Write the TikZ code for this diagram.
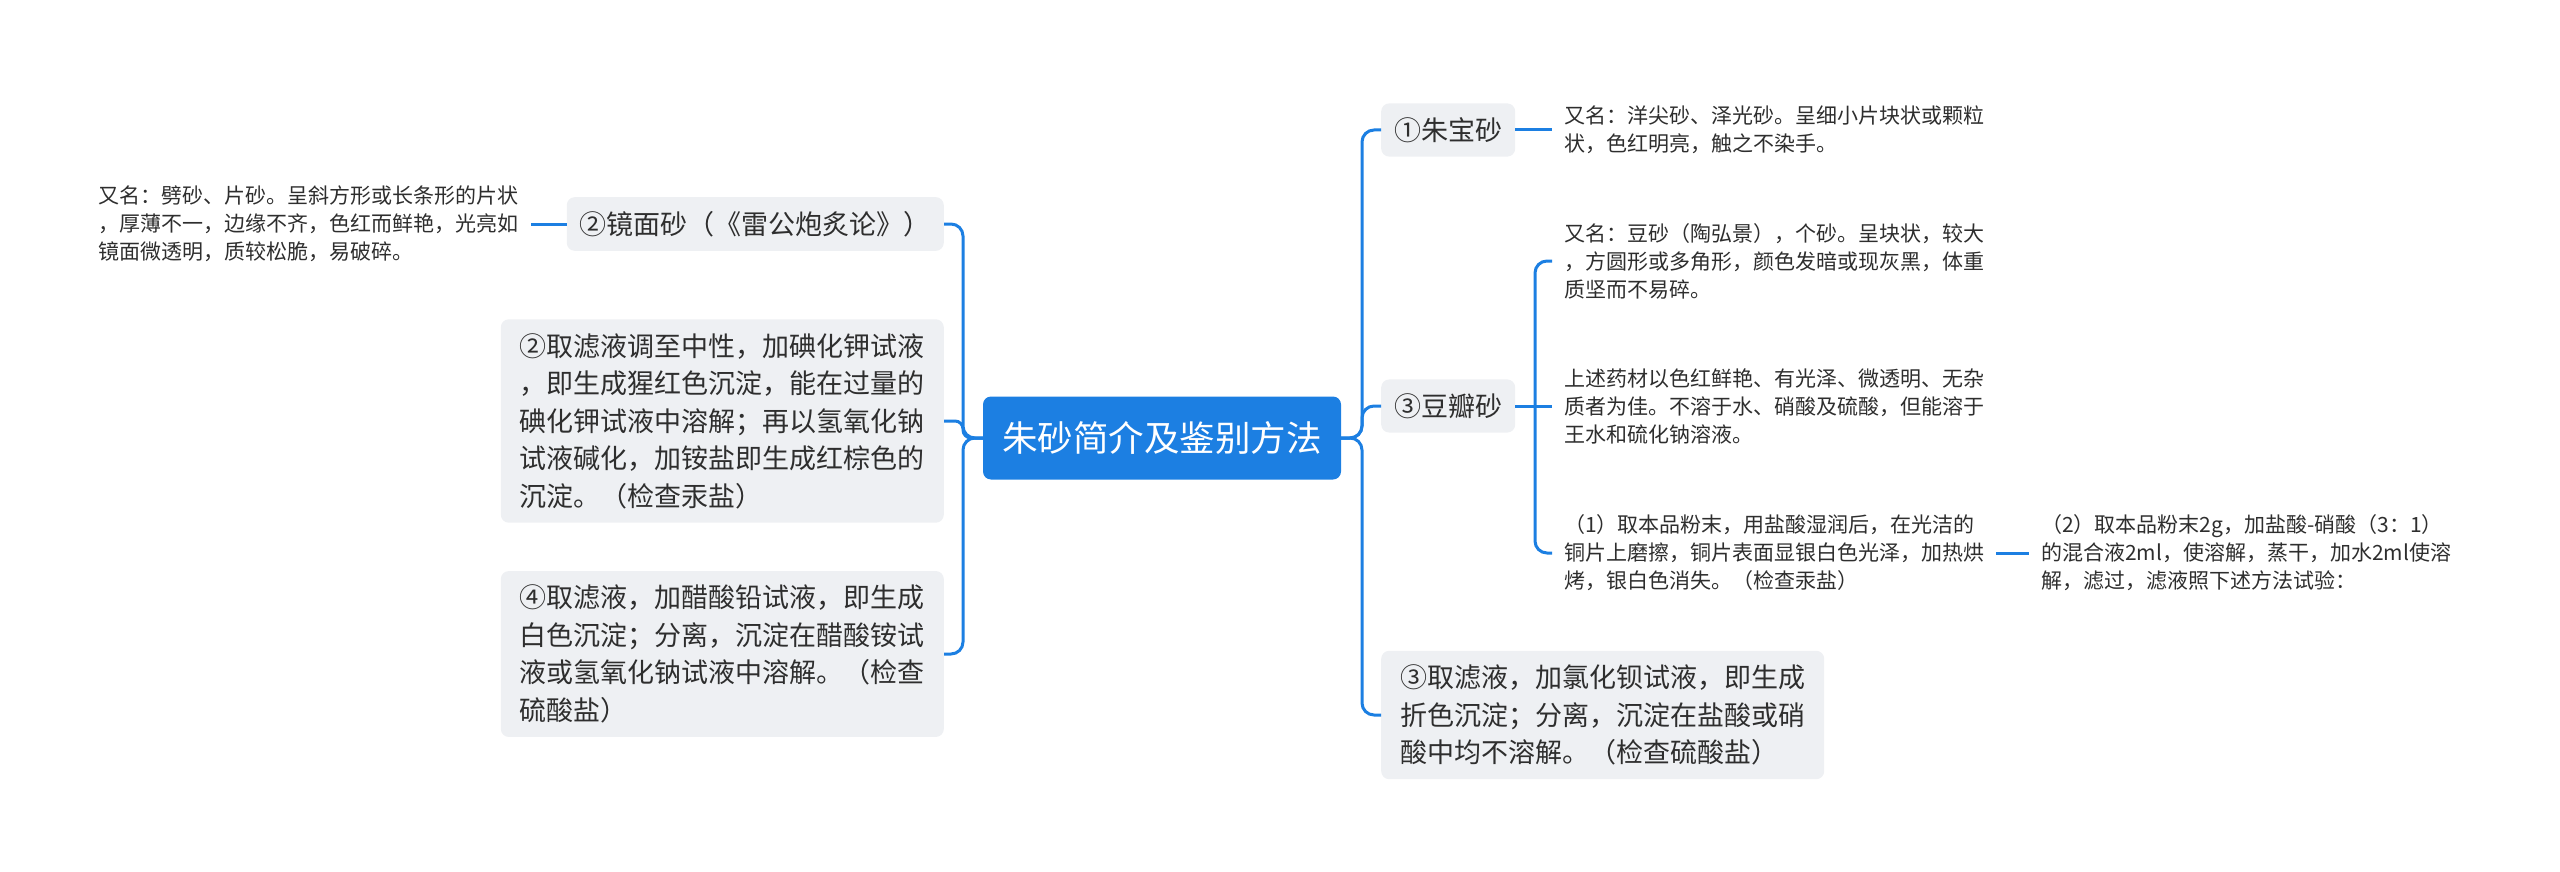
\documentclass[tikz,border=0pt]{standalone}
\usepackage{fontspec}
\setmainfont{Noto Sans CJK SC}
\usepackage{tikz}
\definecolor{MapBlue}{HTML}{1C7FE2}
\definecolor{TopicGray}{HTML}{EEF0F3}
\definecolor{InkGray}{HTML}{2E2E2E}

\begin{document}
\begin{tikzpicture}[x=1pt, y=-1pt,
    rootbox/.style={fill=MapBlue, text=white, rounded corners=8pt,
      minimum width=358pt, minimum height=83pt,
      font=\fontsize{35.5}{40}\selectfont},
    topic/.style={fill=TopicGray, text=InkGray, rounded corners=8pt,
      align=left, inner xsep=13pt, inner ysep=14pt,
      font=\fontsize{27}{37.5}\selectfont},
    note/.style={topic, inner xsep=19pt},
    leaf/.style={text=InkGray, align=left, inner xsep=12pt, inner ysep=4pt,
      font=\fontsize{21}{28}\selectfont},
    link/.style={MapBlue, line width=3pt, rounded corners=12pt}]
  \useasboundingbox (0,0) rectangle (2560,872);

  % Centre
  \node[rootbox] (root) at (1162,438) {朱砂简介及鉴别方法};
  \coordinate (rtrunk) at (1362,438);
  \coordinate (ltrunk) at (963,438);

  % Right branches
  \node[topic, anchor=west] (zhubao) at (1381,130) {①朱宝砂};
  \node[topic, anchor=west] (doubian) at (1381,406) {③豆瓣砂};
  \node[note, anchor=west] (barium) at (1381,715)
    {③取滤液，加氯化钡试液，即生成\\折色沉淀；分离，沉淀在盐酸或硝\\酸中均不溶解。（检查硫酸盐）};

  \node[leaf, anchor=west] (zbleaf) at (1552,130)
    {又名：洋尖砂、泽光砂。呈细小片块状或颗粒\\状，色红明亮，触之不染手。};

  % Leaves of the bean-petal grade
  \coordinate (dtrunk) at (1535,406);
  \node[leaf, anchor=west] (dbleafa) at (1552,261)
    {又名：豆砂（陶弘景），个砂。呈块状，较大\\，方圆形或多角形，颜色发暗或现灰黑，体重\\质坚而不易碎。};
  \node[leaf, anchor=west] (dbleafb) at (1552,406)
    {上述药材以色红鲜艳、有光泽、微透明、无杂\\质者为佳。不溶于水、硝酸及硫酸，但能溶于\\王水和硫化钠溶液。};
  \node[leaf, anchor=west] (dbleafc) at (1552,553)
    {（1）取本品粉末，用盐酸湿润后，在光洁的\\铜片上磨擦，铜片表面显银白色光泽，加热烘\\烤，银白色消失。（检查汞盐）};
  \node[leaf, anchor=west] (dbleafd) at (2029,553)
    {（2）取本品粉末2g，加盐酸-硝酸（3：1）\\的混合液2ml，使溶解，蒸干，加水2ml使溶\\解，滤过，滤液照下述方法试验：};

  % Left branches
  \node[topic, anchor=east] (jingmian) at (944,224) {②镜面砂（《雷公炮炙论》）};
  \node[note, anchor=east] (iodide) at (944,421)
    {②取滤液调至中性，加碘化钾试液\\，即生成猩红色沉淀，能在过量的\\碘化钾试液中溶解；再以氢氧化钠\\试液碱化，加铵盐即生成红棕色的\\沉淀。（检查汞盐）};
  \node[note, anchor=east] (lead) at (944,654)
    {④取滤液，加醋酸铅试液，即生成\\白色沉淀；分离，沉淀在醋酸铵试\\液或氢氧化钠试液中溶解。（检查\\硫酸盐）};
  \node[leaf, anchor=east] (jmleaf) at (531,224)
    {又名：劈砂、片砂。呈斜方形或长条形的片状\\，厚薄不一，边缘不齐，色红而鲜艳，光亮如\\镜面微透明，质较松脆，易破碎。};

  % Connectors
  \foreach \kid in {zhubao,doubian,barium}
    \draw[link] (root.east) -- (rtrunk) |- (\kid.west);
  \draw[link] (root.west) -- (ltrunk) |- (jingmian.east);
  \draw[link, rounded corners=8pt] (root.west) -- (ltrunk) |- (iodide.east);
  \draw[link] (root.west) -- (ltrunk) |- (lead.east);
  \draw[link] (zhubao.east) -- (zbleaf.west);
  \draw[link] (doubian.east) -- (dbleafb.west);
  \draw[link] (dtrunk) |- (dbleafa.west);
  \draw[link] (dtrunk) |- (dbleafc.west);
  \draw[link] (dbleafc.east) -- (dbleafd.west);
  \draw[link] (jmleaf.east) -- (jingmian.west);
\end{tikzpicture}
\end{document}
